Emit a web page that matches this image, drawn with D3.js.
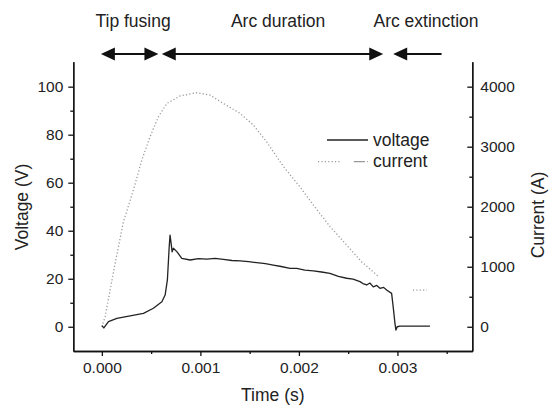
<!DOCTYPE html>
<html lang="en">
<head>
<meta charset="UTF-8">
<title>Voltage and current vs time</title>
<script src="https://d3js.org/d3.v7.min.js"></script>
<style>
  body, html { margin: 0; padding: 0; background: #fff; }
  svg { display: block; font-family: "Liberation Sans", Arial, sans-serif; }
  .axis path, .axis line { stroke: #111; stroke-width: 1.3; }
  .axis text { font-size: 15.5px; fill: #222; }
  .title { font-size: 17.5px; fill: #222; }
</style>
</head>
<body>
<svg width="559" height="407"></svg>
<script>
// time in ms, voltage in V
const voltageT = [0, 0.02, 0.067, 0.152, 0.287, 0.422, 0.523, 0.609, 0.642, 0.665, 0.683, 0.692, 0.703, 0.713,
  0.726, 0.761, 0.811, 0.896, 0.98, 1.065, 1.15, 1.233, 1.32, 1.403, 1.49, 1.572, 1.66, 1.74, 1.82, 1.91,
  1.978, 2.06, 2.146, 2.23, 2.315, 2.40, 2.485, 2.55, 2.62, 2.65, 2.688, 2.72, 2.755, 2.79, 2.823, 2.86,
  2.89, 2.941, 2.957, 2.975, 2.985, 2.998, 3.025, 3.33];
const voltageV = [0.5, -0.5, 2.1, 3.5, 4.5, 5.6, 7.7, 10.4, 13.2, 19.5, 33, 38.2, 34.7, 31.2,
  32.7, 31.3, 28.5, 27.8, 28.4, 28.2, 28.5, 28.1, 27.6, 27.4, 27.1, 26.7, 26.3, 25.7, 25.1, 24.3,
  24.3, 23.6, 23.3, 22.8, 22.2, 21.0, 20.2, 19.8, 18.8, 18.0, 17.4, 18.2, 16.6, 17.2, 16.0, 16.4,
  15.3, 13.9, 8.3, 1.4, -1.4, 0, 0.3, 0.3];

// time in ms, current in A (null = gap in the trace)
const currentT = [0, 0.033, 0.135, 0.219, 0.32, 0.406, 0.49, 0.574, 0.659, 0.794, 0.963, 1.098, 1.233,
  1.403, 1.538, 1.673, 1.842, 2.011, 2.146, 2.315, 2.485, 2.637, 2.80, 2.81, 3.157, 3.30];
const currentA = [0, 167, 1060, 1750, 2280, 2780, 3170, 3500, 3720, 3845, 3900, 3860, 3720,
  3555, 3360, 3080, 2670, 2330, 2030, 1670, 1360, 1080, 850, null, 610, 610];

const xTicks = [0, 0.001, 0.002, 0.003];
const xMinor = [0.0005, 0.0015, 0.0025, 0.0035];
const vTicks = [0, 20, 40, 60, 80, 100];
const vMinor = [10, 30, 50, 70, 90];
const iTicks = [0, 1000, 2000, 3000, 4000];
const iMinor = [500, 1500, 2500, 3500];

// phases along the top (ms); arrow heads at both ends unless noted
const phaseNames = ["Tip fusing", "Arc duration", "Arc extinction"];
const phaseStart = [-0.01, 0.608, 2.957];
const phaseEnd = [0.574, 2.856, 3.448];
const phaseEndHead = [true, true, false];
const phaseLabelT = [0.317, 1.789, 3.29];

const svg = d3.select("svg");
const plotL = 73.3, plotR = 472.3, plotT = 61.7, plotB = 351;

const x = d3.scaleLinear().domain([-0.00029, 0.00376]).range([plotL, plotR]);
const yV = d3.scaleLinear().domain([-10.1, 110.4]).range([plotB, plotT]);
const yI = d3.scaleLinear().domain([-404, 4416]).range([plotB, plotT]);

// axes
svg.append("g").attr("class", "axis").attr("transform", `translate(0,${plotB})`)
  .call(d3.axisBottom(x).tickValues(xTicks).tickFormat(d3.format(".3f"))
    .tickSize(5).tickSizeOuter(0).tickPadding(6));
svg.append("g").attr("class", "axis").attr("transform", `translate(0,${plotB})`)
  .call(d3.axisBottom(x).tickValues(xMinor).tickFormat("").tickSize(3).tickSizeOuter(0));

svg.append("g").attr("class", "axis").attr("transform", `translate(${plotL},0)`)
  .call(d3.axisLeft(yV).tickValues(vTicks).tickSize(5).tickSizeOuter(0).tickPadding(5));
svg.append("g").attr("class", "axis").attr("transform", `translate(${plotL},0)`)
  .call(d3.axisLeft(yV).tickValues(vMinor).tickFormat("").tickSize(3).tickSizeOuter(0));

svg.append("g").attr("class", "axis").attr("transform", `translate(${plotR},0)`)
  .call(d3.axisRight(yI).tickValues(iTicks).tickFormat(d3.format("d"))
    .tickSizeInner(-5).tickSizeOuter(0).tickPadding(8));
svg.append("g").attr("class", "axis").attr("transform", `translate(${plotR},0)`)
  .call(d3.axisRight(yI).tickValues(iMinor).tickFormat("").tickSizeInner(-3).tickSizeOuter(0));

// axis titles
svg.append("text").attr("class", "title").attr("x", (plotL + plotR) / 2).attr("y", 401)
  .attr("text-anchor", "middle").text("Time (s)");
svg.append("text").attr("class", "title").attr("text-anchor", "middle")
  .attr("transform", "translate(28.3,207) rotate(-90)").text("Voltage (V)");
svg.append("text").attr("class", "title").attr("text-anchor", "middle")
  .attr("transform", "translate(544,215) rotate(-90)").text("Current (A)");

// current trace (dotted grey)
const curData = currentT.map((t, i) => ({ t: t / 1000, v: currentA[i] }));
svg.append("path").datum(curData)
  .attr("fill", "none").attr("stroke", "#999").attr("stroke-width", 1.3)
  .attr("stroke-dasharray", "1.2,2.2")
  .attr("d", d3.line().defined(d => d.v !== null).x(d => x(d.t)).y(d => yI(d.v)));

// voltage trace
const volData = voltageT.map((t, i) => ({ t: t / 1000, v: voltageV[i] }));
svg.append("path").datum(volData)
  .attr("fill", "none").attr("stroke", "#222").attr("stroke-width", 1.3)
  .attr("stroke-linejoin", "round")
  .attr("d", d3.line().x(d => x(d.t)).y(d => yV(d.v)));

// legend
const lg = svg.append("g");
lg.append("line").attr("x1", 327).attr("x2", 368).attr("y1", 140).attr("y2", 140)
  .attr("stroke", "#222").attr("stroke-width", 1.3);
lg.append("text").attr("x", 373).attr("y", 146).attr("class", "title").text("voltage");
lg.append("line").attr("x1", 318).attr("x2", 368).attr("y1", 161.7).attr("y2", 161.7)
  .attr("stroke", "#999").attr("stroke-width", 1.3)
  .attr("stroke-dasharray", "1.2,2.2,1.2,2.2,1.2,2.2,1.2,2.2,1.2,2.2,1.2,2.2,1.2,2.2,0,12,10,0");
lg.append("text").attr("x", 373).attr("y", 166.7).attr("class", "title").text("current");

// phase arrows along the top
const arrowY = 54, headL = 14, headH = 6.5;
const ph = svg.append("g");
phaseNames.forEach((name, i) => {
  const x0 = x(phaseStart[i] / 1000), x1 = x(phaseEnd[i] / 1000);
  ph.append("line").attr("x1", x0 + headL - 2).attr("x2", phaseEndHead[i] ? x1 - headL + 2 : x1)
    .attr("y1", arrowY).attr("y2", arrowY).attr("stroke", "#111").attr("stroke-width", 2);
  ph.append("path").attr("fill", "#111")
    .attr("d", `M${x0},${arrowY}L${x0 + headL},${arrowY - headH}L${x0 + headL},${arrowY + headH}Z`);
  if (phaseEndHead[i]) {
    ph.append("path").attr("fill", "#111")
      .attr("d", `M${x1},${arrowY}L${x1 - headL},${arrowY - headH}L${x1 - headL},${arrowY + headH}Z`);
  }
  ph.append("text").attr("class", "title").attr("x", x(phaseLabelT[i] / 1000)).attr("y", 27)
    .attr("text-anchor", "middle").text(name);
});
</script>
</body>
</html>
